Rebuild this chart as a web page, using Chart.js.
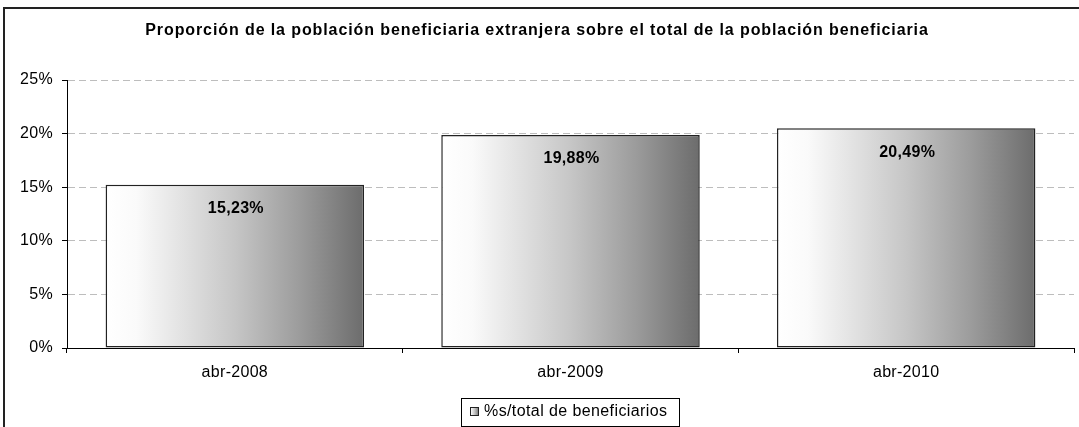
<!DOCTYPE html>
<html><head><meta charset="utf-8">
<script src="https://cdn.jsdelivr.net/npm/chart.js@4/dist/chart.umd.min.js"></script>
<style>html,body{margin:0;padding:0;background:#fff;}#wrap{position:absolute;left:0;top:0;width:1079px;height:427px;}</style>
</head><body><div id="wrap"><canvas id="c" width="1079" height="427"></canvas></div>
<script>
const categories = ['abr-2008', 'abr-2009', 'abr-2010'];
const seriesValues = [15.23, 19.88, 20.49];
const seriesLabel = '%s/total de beneficiarios';
const yTicks = [0, 5, 10, 15, 20, 25];
const titleText = 'Proporción de la población beneficiaria extranjera sobre el total de la población beneficiaria';
const FONT = '"Liberation Sans", Arial, sans-serif';

function makeGrad(ctx, x0, x1) {
  const g = ctx.createLinearGradient(x0, 0, x1, 0);
  g.addColorStop(0, '#ffffff');
  g.addColorStop(0.12, '#fafafa');
  g.addColorStop(0.5, '#c6c6c6');
  g.addColorStop(0.75, '#9c9c9c');
  g.addColorStop(1, '#6c6c6c');
  return g;
}
const BAR_PCT = 0.77;

const extras = {
  id: 'extras',
  afterLayout(chart) {
    const t = chart.titleBlock;
    if (t && !t._wrapped) {
      const orig = t.draw.bind(t);
      t.draw = function () {
        const c = chart.ctx;
        c.save();
        c.letterSpacing = '0.9px';
        orig();
        c.restore();
      };
      t._wrapped = true;
    }
  },
  beforeDraw(chart) {
    const c = chart.ctx;
    c.save();
    c.strokeStyle = '#222';
    c.lineWidth = 2;
    c.beginPath();
    c.moveTo(4, 427); c.lineTo(4, 8); c.lineTo(1079, 8);
    c.stroke();
    c.restore();
    c.letterSpacing = '0.3px';
  },
  afterDatasetsDraw(chart) {
    const c = chart.ctx;
    const meta = chart.getDatasetMeta(0);
    c.save();
    c.letterSpacing = '0.3px';
    c.font = 'bold 16px ' + FONT;
    c.fillStyle = '#000';
    c.textAlign = 'center';
    c.textBaseline = 'middle';
    meta.data.forEach((bar, i) => {
      const txt = seriesValues[i].toFixed(2).replace('.', ',') + '%';
      c.fillText(txt, bar.x + 1, bar.y + 24);
    });
    // legend
    const bx = 461, by = 398, bw = 218, bh = 28;
    c.fillStyle = '#fff';
    c.fillRect(bx, by, bw, bh);
    c.strokeStyle = '#000';
    c.lineWidth = 1;
    c.strokeRect(bx + 0.5, by + 0.5, bw, bh);
    c.fillStyle = makeGrad(c, 470, 479);
    c.fillRect(470, 407, 9, 9);
    c.strokeStyle = '#222';
    c.strokeRect(470.5, 407.5, 8, 8);
    c.fillStyle = '#000';
    c.letterSpacing = '0.4px';
    c.font = '16px ' + FONT;
    c.textAlign = 'left';
    c.fillText(chart.data.datasets[0].label, 484, 412);
    c.restore();
  }
};

new Chart(document.getElementById('c'), {
  type: 'bar',
  data: {
    labels: categories,
    datasets: [{
      label: seriesLabel,
      data: seriesValues,
      backgroundColor(ctx) {
        const chart = ctx.chart;
        const ca = chart.chartArea;
        if (!ca) return '#ccc';
        const xs = chart.scales.x;
        const cx = xs.getPixelForValue(ctx.dataIndex);
        const w = (ca.right - ca.left) / categories.length * BAR_PCT;
        return makeGrad(chart.ctx, cx - w / 2, cx + w / 2);
      },
      borderColor: '#222',
      borderWidth: 1.5,
      borderSkipped: false,
      categoryPercentage: 1,
      barPercentage: BAR_PCT
    }]
  },
  options: {
    responsive: false,
    animation: false,
    devicePixelRatio: 1,
    layout: { padding: { left: 0, right: 5, top: 0, bottom: 0 } },
    plugins: {
      legend: { display: false },
      tooltip: { enabled: false },
      title: {
        display: true,
        text: titleText,
        color: '#000',
        font: { family: FONT, size: 16, weight: 'bold' },
        padding: { top: 21.4, bottom: 39.4 }
      }
    },
    scales: {
      x: {
        grid: { display: true, drawOnChartArea: false, drawTicks: true, tickLength: 5, color: '#000', tickColor: '#000', offset: true },
        border: { display: true, color: '#000', width: 1 },
        ticks: { color: '#000', font: { family: FONT, size: 16 }, padding: 10 },
        afterFit(s) { s.height = 79; }
      },
      y: {
        min: 0, max: 25,
        afterBuildTicks(s) { s.ticks = yTicks.map(v => ({ value: v })); },
        grid: { color: '#bdbdbd', lineWidth: 1, tickColor: '#000', tickLength: 5, tickWidth: 1 },
        border: { display: true, color: '#000', width: 1, dash: [7, 4] },
        ticks: { color: '#000', font: { family: FONT, size: 16 }, padding: 9, callback: v => v + '%' },
        afterFit(s) { s.width = 67; }
      }
    }
  },
  plugins: [extras]
});
</script></body></html>
